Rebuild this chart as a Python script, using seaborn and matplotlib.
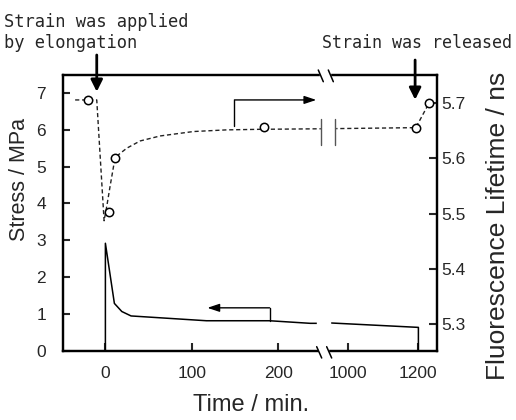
import numpy as np
import pandas as pd
import seaborn as sns
import matplotlib.pyplot as plt

# stress curve (left axis)
stress_t = [0, 0, 10.4, 19, 29.7, 117, 190, 237, 252, 928, 1200, 1200]
stress_v = [0, 2.92, 1.29, 1.07, 0.95, 0.82, 0.82, 0.75, 0.75, 0.77, 0.64, 0]

# fitted lifetime curve (right axis, dashed)
fit_t = [-35, -10, -1.5, 1.6, 5.4, 10.1, 15.0, 24.8, 40.2, 63.3, 101.9, 140.5, 179, 252,
         928, 1192.6, 1231]
fit_v = [5.705, 5.705, 5.487, 5.513, 5.549, 5.591, 5.606, 5.618, 5.631, 5.640, 5.648, 5.651,
         5.652, 5.653, 5.653, 5.655, 5.70]

# measured lifetimes (open circles)
pts_t = [-19.7, 4.6, 11.2, 183.7, 1192.6, 1231]
pts_v = [5.705, 5.5025, 5.601, 5.657, 5.655, 5.70]

xticks = [0, 100, 200, 1000, 1200]
yticks_l = [0, 1, 2, 3, 4, 5, 6, 7]
yticks_r = [5.3, 5.4, 5.5, 5.6, 5.7]

# broken time axis
X1, X2, K = 252.0, 928.0, 0.405


def fwd(x):
    x = np.asarray(x, dtype=float)
    return np.where(x <= X1, x, X1 + (x - X2) * K)


def inv(y):
    y = np.asarray(y, dtype=float)
    return np.where(y <= X1, y, X2 + (y - X1) / K)


sns.set_theme(style='ticks')
plt.rcParams['font.family'] = ['Liberation Sans', 'DejaVu Sans']

fig = plt.figure(figsize=(5.16, 4.2), dpi=100)
ax = fig.add_axes([63.3 / 516, 1 - 351 / 420, 374 / 516, 276 / 420])
ax.set_xscale('function', functions=(fwd, inv))
ax2 = ax.twinx()

df_s = pd.DataFrame({'t': stress_t, 'v': stress_v})
df_f = pd.DataFrame({'t': fit_t, 'v': fit_v})
df_p = pd.DataFrame({'t': pts_t, 'v': pts_v})

sns.lineplot(data=df_s, x='t', y='v', ax=ax, sort=False, estimator=None,
             color='black', lw=1.1)
sns.lineplot(data=df_f, x='t', y='v', ax=ax2, sort=False, estimator=None,
             color='#222222', lw=1.0, dashes=False, linestyle=(0, (3, 2)))
ax2.plot(df_p['t'], df_p['v'], 'o', ms=6, mfc='white', mec='black', mew=1.1, zorder=5)

ax.set_xlim(-48.7, 1254)
ax.set_ylim(0, 7.48)
ax2.set_ylim(5.252, 5.75)
ax.set_xticks(xticks)
ax.set_xticklabels([str(v) for v in xticks])
ax.set_yticks(yticks_l)
ax2.set_yticks(yticks_r)
ax2.set_yticklabels([f'{v:.1f}' for v in yticks_r])
ax.set_xlabel('')
ax.set_ylabel('')
ax2.set_ylabel('')

for a in (ax, ax2):
    for s in a.spines.values():
        s.set_linewidth(1.6)
        s.set_color('black')
ax.tick_params(axis='x', direction='in', length=6, width=1.5, pad=10.5, labelsize=12.5, top=False)
ax.tick_params(axis='y', direction='in', length=5, width=1.5, pad=12.5, labelsize=12.5)
ax2.tick_params(axis='y', direction='in', length=6, width=1.5, pad=3, labelsize=12.5)

# axis labels
fig.text(251.5 / 516, 1 - 405 / 420, 'Time / min.', ha='center', va='center', fontsize=17)
fig.text(19.5 / 516, 1 - 179 / 420, 'Stress / MPa', ha='center', va='center',
         rotation=90, fontsize=15.5)
fig.text(498 / 516, 1 - 226 / 420, 'Fluorescence Lifetime / ns', ha='center', va='center',
         rotation=90, fontsize=19)

# indicator arrows for which axis each curve belongs to
ax.plot([190, 190], [0.82, 1.17], color='black', lw=1.0)
ax.annotate('', xy=(118, 1.17), xytext=(190, 1.17),
            arrowprops=dict(arrowstyle='-|>,head_length=0.6,head_width=0.2',
                            mutation_scale=12, color='black', lw=1.0, shrinkA=0, shrinkB=0))
ax2.plot([149.3, 149.3], [5.658, 5.705], color='black', lw=1.0)
ax2.annotate('', xy=(244, 5.705), xytext=(149.3, 5.705),
             arrowprops=dict(arrowstyle='-|>,head_length=0.6,head_width=0.2',
                             mutation_scale=12, color='black', lw=1.0, shrinkA=0, shrinkB=0))

# strain event annotations
mono = ['DejaVu Sans Mono']
fig.text(4 / 516, 1 - 13 / 420, 'Strain was applied\nby elongation', ha='left', va='top',
         fontsize=12.3, family=mono, linespacing=1.25)
fig.text(512 / 516, 1 - 48 / 420, 'Strain was released', ha='right', va='baseline',
         fontsize=12, family=mono)
head = dict(arrowstyle='-|>,head_length=0.7,head_width=0.35', mutation_scale=10,
            color='black', lw=2, shrinkA=0, shrinkB=0)
ax.annotate('', xy=(-10, 0.9395), xytext=(-10, 1.0725),
            xycoords=('data', 'axes fraction'), textcoords=('data', 'axes fraction'),
            arrowprops=head, annotation_clip=False)
ax.annotate('', xy=(1190.6, 0.9105), xytext=(1190.6, 1.0543),
            xycoords=('data', 'axes fraction'), textcoords=('data', 'axes fraction'),
            arrowprops=head, annotation_clip=False)

# break marks
tr = ax2.transAxes
ax2.add_patch(plt.Rectangle((0.6837, -0.015), 0.0241, 0.03, transform=tr, color='white',
                            clip_on=False, zorder=10))
ax2.add_patch(plt.Rectangle((0.6876, 0.985), 0.0267, 0.03, transform=tr, color='white',
                            clip_on=False, zorder=10))
ax2.add_patch(plt.Rectangle((0.678, 0.058), 0.035, 0.083, transform=tr, color='white',
                            clip_on=False, zorder=10))
ax2.add_patch(plt.Rectangle((0.6895, 0.76), 0.036, 0.07, transform=tr, color='white',
                            clip_on=False, zorder=10))
for x0, x1 in [(0.6775, 0.6909), (0.7042, 0.7176)]:
    ax2.plot([x0, x1], [0.0156, -0.0254], transform=tr, color='black', lw=1.1,
             clip_on=False, zorder=11)
for x0, x1 in [(0.6818, 0.6952), (0.7086, 0.722)]:
    ax2.plot([x0, x1], [1.0181, 0.9757], transform=tr, color='black', lw=1.1,
             clip_on=False, zorder=11)
for x0 in [0.6882, 0.7265]:
    ax2.plot([x0, x0], [0.7464, 0.8406], transform=tr, color='#555555', lw=1.0, zorder=11)

fig.savefig('out.png', dpi=100)
